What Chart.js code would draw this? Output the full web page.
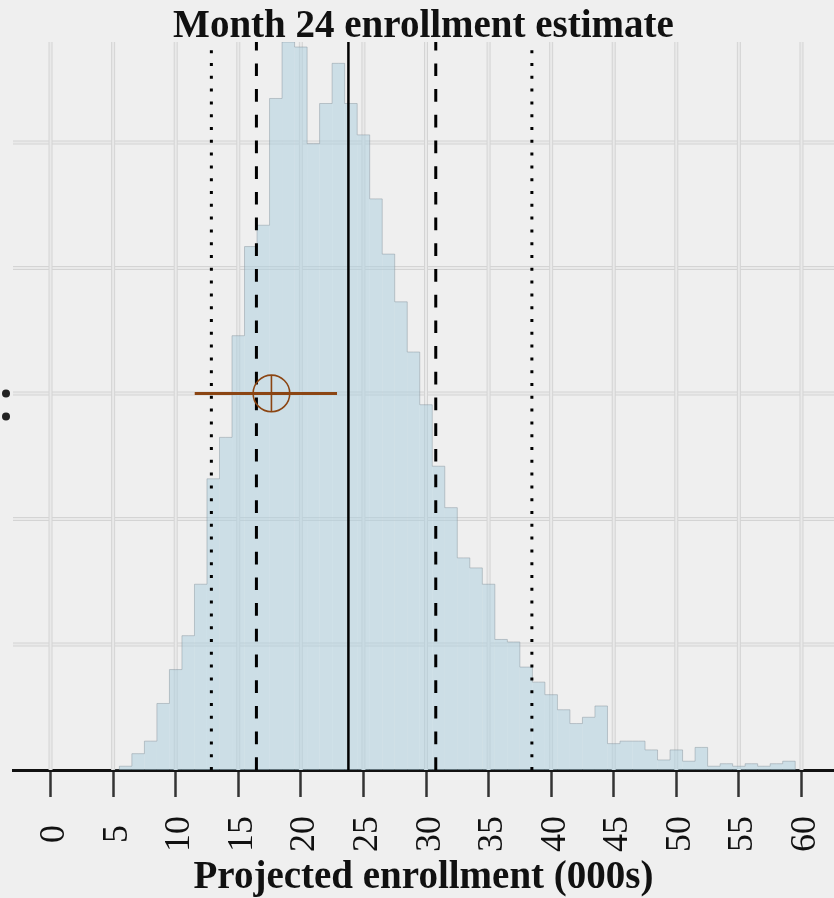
<!DOCTYPE html>
<html>
<head>
<meta charset="utf-8">
<script src="https://cdn.jsdelivr.net/npm/chart.js@4/dist/chart.umd.min.js"></script>
<style>
  html, body { margin: 0; padding: 0; background: #efefef; }
  canvas { display: block; }
</style>
</head>
<body>
<canvas id="chart" width="834" height="898"></canvas>
<script>
// Simulated month-24 enrollment (thousands): one-unit bins centred on integers
const binCenters = [6, 7, 8, 9, 10, 11, 12, 13, 14, 15, 16, 17, 18, 19, 20, 21, 22, 23, 24, 25,
  26, 27, 28, 29, 30, 31, 32, 33, 34, 35, 36, 37, 38, 39, 40, 41, 42, 43, 44, 45,
  46, 47, 48, 49, 50, 51, 52, 53, 54, 55, 56, 57, 58, 59];
const binCounts = [3, 13, 23, 53, 80, 107, 148, 232, 265, 346, 417, 434, 535, 580, 576, 499, 531, 563, 531, 506,
  455, 411, 373, 333, 291, 242, 209, 169, 161, 148, 104, 102, 82, 70, 60, 48, 37, 42, 51, 21,
  23, 23, 16, 8, 16, 7, 18, 3, 5, 3, 5, 3, 5, 7];

// Axis ticks and horizontal reference levels
const xTickValues = [0, 5, 10, 15, 20, 25, 30, 35, 40, 45, 50, 55, 60];
const yGridValues = [100, 200, 300, 400, 500];
const yMax = 580;

// Summary lines: outer interval (dotted), inner interval (dashed), centre (solid)
const outerInterval = [12.85, 38.46];
const innerInterval = [16.45, 30.78];
const centreValue = 23.8;

// Comparison estimate with its interval, drawn at a fixed height
const estimateValue = 17.65;
const estimateInterval = [11.52, 22.89];
const estimateLevel = 300;

const chartTitle = 'Month 24 enrollment estimate';
const xAxisTitle = 'Projected enrollment (000s)';

const SERIF = '"Liberation Serif", "Times New Roman", serif';
const BROWN = '#8b4513';

function verticalLine(value, dash, width) {
  return {
    type: 'line',
    data: [{ x: value, y: 0 }, { x: value, y: yMax }],
    borderColor: '#000',
    borderWidth: width,
    borderDash: dash,
    borderCapStyle: 'butt',
    pointRadius: 0,
    order: 5
  };
}

// Outline of the histogram: stepped path through the bin tops, closed at zero on each side
const outlinePoints = [{ x: binCenters[0] - 1, y: 0 }]
  .concat(binCenters.map((c, i) => ({ x: c, y: binCounts[i] })))
  .concat([{ x: binCenters[binCenters.length - 1] + 1, y: 0 }]);

// Double-stroked grid drawn beneath the datasets
const gridPlugin = {
  id: 'doubleGrid',
  beforeDatasetsDraw(chart) {
    const { ctx, chartArea: a, scales: { x, y } } = chart;
    ctx.save();
    const stroke = (draw) => {
      ctx.lineWidth = 4; ctx.strokeStyle = '#d4d4d4'; draw();
      ctx.lineWidth = 2; ctx.strokeStyle = '#e9e9e9'; draw();
    };
    yGridValues.forEach(v => {
      const py = y.getPixelForValue(v);
      stroke(() => { ctx.beginPath(); ctx.moveTo(a.left, py); ctx.lineTo(a.right, py); ctx.stroke(); });
    });
    xTickValues.forEach(v => {
      const px = x.getPixelForValue(v);
      stroke(() => { ctx.beginPath(); ctx.moveTo(px, a.top); ctx.lineTo(px, a.bottom); ctx.stroke(); });
    });
    ctx.restore();
  }
};

// Title, rotated tick labels and the two marks at the left margin
const textPlugin = {
  id: 'textDecor',
  afterDraw(chart) {
    const { ctx, chartArea: a, scales: { x, y } } = chart;
    ctx.save();
    ctx.fillStyle = '#111';
    ctx.font = 'bold 39px ' + SERIF;
    ctx.textAlign = 'center';
    ctx.textBaseline = 'alphabetic';
    ctx.fillText(chartTitle, (a.left + a.right) / 2, 37);

    ctx.font = '36px ' + SERIF;
    xTickValues.forEach(v => {
      const px = x.getPixelForValue(v);
      ctx.save();
      ctx.translate(px + 13.5, 834);
      ctx.rotate(-Math.PI / 2);
      ctx.fillText(String(v), 0, 0);
      ctx.restore();
    });

    const py = y.getPixelForValue(estimateLevel);
    ctx.fillStyle = '#222';
    [py, py + 23].forEach(cy => {
      ctx.beginPath(); ctx.arc(6, cy, 4, 0, Math.PI * 2); ctx.fill();
    });
    ctx.restore();
  }
};

new Chart(document.getElementById('chart'), {
  type: 'bar',
  data: {
    datasets: [
      {
        type: 'bar',
        data: binCenters.map((c, i) => ({ x: c, y: binCounts[i] })),
        backgroundColor: 'rgba(173, 208, 222, 0.52)',
        borderWidth: 0,
        inflateAmount: 0,
        barPercentage: 1,
        categoryPercentage: 1,
        order: 10
      },
      {
        type: 'line',
        data: outlinePoints,
        stepped: 'middle',
        borderColor: 'rgba(130, 145, 152, 0.45)',
        borderWidth: 1,
        pointRadius: 0,
        fill: false,
        order: 9
      },
      verticalLine(outerInterval[0], [3, 9.8], 3),
      verticalLine(outerInterval[1], [3, 9.8], 3),
      verticalLine(innerInterval[0], [12.7, 13], 3),
      verticalLine(innerInterval[1], [12.7, 13], 3),
      verticalLine(centreValue, [], 2.5),
      {
        type: 'line',
        data: [{ x: estimateInterval[0], y: estimateLevel }, { x: estimateInterval[1], y: estimateLevel }],
        borderColor: BROWN,
        borderWidth: 3,
        pointRadius: 0,
        order: 2
      },
      {
        type: 'line',
        data: [{ x: estimateValue, y: estimateLevel }],
        showLine: false,
        pointStyle: 'circle',
        pointRadius: 18.3,
        pointBorderWidth: 1.6,
        pointBorderColor: BROWN,
        pointBackgroundColor: 'rgba(0,0,0,0)',
        order: 1
      },
      {
        type: 'line',
        data: [{ x: estimateValue, y: estimateLevel }],
        showLine: false,
        pointStyle: 'cross',
        pointRadius: 18.3,
        pointBorderWidth: 1.6,
        pointBorderColor: BROWN,
        order: 0
      }
    ]
  },
  options: {
    responsive: false,
    animation: false,
    events: [],
    layout: { autoPadding: false, padding: { top: 42, left: 13, right: 0, bottom: 0 } },
    plugins: {
      legend: { display: false },
      tooltip: { enabled: false },
      title: { display: false }
    },
    scales: {
      x: {
        type: 'linear',
        min: -3,
        max: 62.6,
        offset: false,
        afterBuildTicks(scale) { scale.ticks = xTickValues.map(v => ({ value: v })); },
        ticks: { display: false },
        grid: {
          offset: false,
          drawOnChartArea: false,
          drawTicks: true,
          tickLength: 27,
          tickColor: '#333',
          tickWidth: 2.5,
          color: 'rgba(0,0,0,0)'
        },
        border: { display: true, color: '#111', width: 3 },
        title: {
          display: true,
          text: xAxisTitle,
          color: '#111',
          font: { family: SERIF, size: 39, weight: 'bold', lineHeight: 1 },
          padding: { top: 61, bottom: 1 }
        }
      },
      y: {
        type: 'linear',
        min: 0,
        max: yMax,
        display: false
      }
    }
  },
  plugins: [gridPlugin, textPlugin]
});
</script>
</body>
</html>
